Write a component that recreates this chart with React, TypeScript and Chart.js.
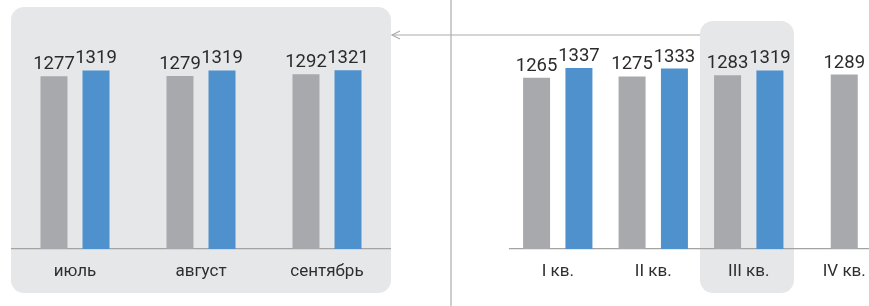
import React, { useEffect, useRef } from "react";
import { Chart, registerables } from "chart.js";

Chart.register(...registerables);

// ---- data ----
const monthLabels = ["июль", "август", "сентябрь"];
const monthPrev = [1277, 1279, 1292];
const monthCurr = [1319, 1319, 1321];

const quarterLabels = ["I кв.", "II кв.", "III кв.", "IV кв."];
const quarterPrev = [1265, 1275, 1283, 1289];
const quarterCurr: (number | null)[] = [1337, 1333, 1319, null];

const GRAY = "#a8a9ac";
const BLUE = "#4f91cd";
const PANEL = "#e6e7e9";
const FONT = "Roboto, 'Open Sans', sans-serif";

const valueLabels = {
  id: "valueLabels",
  afterDatasetsDraw(chart: any) {
    const ctx = chart.ctx;
    ctx.save();
    ctx.font = `18.5px ${FONT}`;
    ctx.fillStyle = "#2b2b2b";
    ctx.textAlign = "center";
    ctx.textBaseline = "alphabetic";
    chart.data.datasets.forEach((ds: any, di: number) => {
      const meta = chart.getDatasetMeta(di);
      meta.data.forEach((bar: any, i: number) => {
        const v = ds.data[i];
        if (v === null || v === undefined) return;
        ctx.fillText(String(v), bar.x, bar.y - 7);
      });
    });
    ctx.restore();
  },
};

function makeConfig(labels: string[], prev: any[], curr: any[], padLeft: number, padRight: number, catPct: number) {
  return {
    type: "bar" as const,
    data: {
      labels,
      datasets: [
        { data: prev, backgroundColor: GRAY, skipNull: true, maxBarThickness: 27, barPercentage: 0.95, categoryPercentage: catPct },
        { data: curr, backgroundColor: BLUE, skipNull: true, maxBarThickness: 27, barPercentage: 0.95, categoryPercentage: catPct },
      ],
    },
    options: {
      animation: false as const,
      responsive: false,
      maintainAspectRatio: false,
      layout: { padding: { top: 46, left: padLeft, right: padRight, bottom: 0 } },
      plugins: { legend: { display: false }, tooltip: { enabled: false } },
      scales: {
        y: { display: false, min: 0, max: 1500 },
        x: {
          grid: { display: false, drawTicks: false },
          border: { display: true, color: "#a3a3a3", width: 1.2 },
          ticks: { color: "#2e2e2e", font: { family: FONT, size: 17 }, padding: 13, maxRotation: 0, autoSkip: false },
          afterFit: (scale: any) => {
            scale.height = 57;
          },
        },
      },
    },
    plugins: [valueLabels],
  };
}

function BarCanvas(props: { cfg: () => any; style: React.CSSProperties; width: number; height: number }) {
  const ref = useRef<HTMLCanvasElement | null>(null);
  useEffect(() => {
    if (!ref.current) return;
    const chart = new Chart(ref.current, props.cfg());
    return () => chart.destroy();
  }, []);
  return <canvas ref={ref} width={props.width} height={props.height} style={{ position: "absolute", ...props.style }} />;
}

export default function App() {
  return (
    <div style={{ position: "fixed", left: 0, top: 0, width: 869, height: 306, overflow: "hidden", background: "#fff" }}>
      <div style={{ position: "absolute", left: 11, top: 7, width: 380, height: 286, background: PANEL, borderRadius: 13 }} />
      <div style={{ position: "absolute", left: 700, top: 21, width: 94, height: 272, background: PANEL, borderRadius: 13 }} />
      <div style={{ position: "absolute", left: 450, top: 0, width: 2, height: 306, background: "#cdcdcd" }} />
      <svg width={869} height={306} style={{ position: "absolute", left: 0, top: 0 }}>
        <line x1={392} y1={35} x2={700} y2={35} stroke="#ababab" strokeWidth={1.2} />
        <polyline points="400,31 392,35 400,39" fill="none" stroke="#ababab" strokeWidth={1.2} />
      </svg>
      <BarCanvas
        width={380}
        height={306}
        style={{ left: 11, top: 0 }}
        cfg={() => makeConfig(monthLabels, monthPrev, monthCurr, 1, 1, 0.667)}
      />
      <BarCanvas
        width={440}
        height={306}
        style={{ left: 452, top: 0 }}
        cfg={() => makeConfig(quarterLabels, quarterPrev, quarterCurr, 58, 0, 0.887)}
      />
    </div>
  );
}
